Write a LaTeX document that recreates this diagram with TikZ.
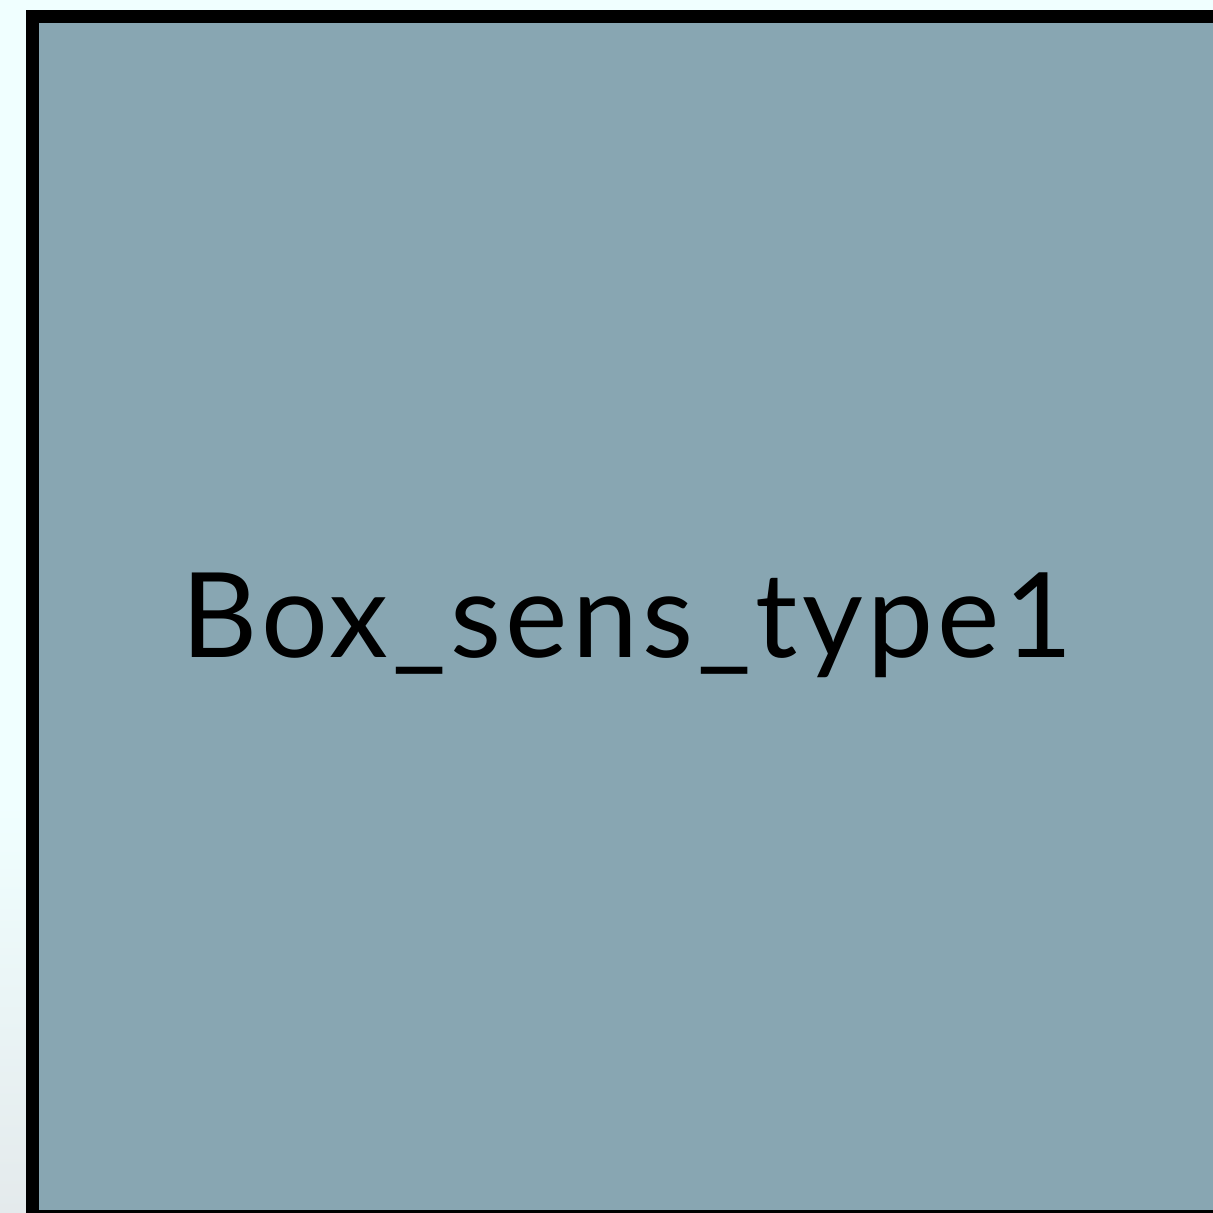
\documentclass[tikz,border=0pt]{standalone}
\usepackage{fontspec}
\setmainfont{Lato}
\definecolor{bgtop}{HTML}{F0FFFF}
\definecolor{bgbot}{HTML}{E4EAEC}
\definecolor{boxfill}{HTML}{88A6B2}
\tikzset{
  sensbox/.style={draw=black, line width=13pt, fill=boxfill},
  boxlabel/.style={font=\fontsize{118}{140}\selectfont\addfontfeatures{LetterSpace=3.5}, text=black, inner sep=0pt, anchor=base}
}
\begin{document}
\begin{tikzpicture}[x=1pt,y=-1pt]
  \useasboundingbox (0,0) rectangle (1213,1213);
  \fill[bgtop] (0,0) rectangle (1213,1213);
  \shade[top color=bgtop, bottom color=bgbot] (0,800) rectangle (1213,1213);
  \draw[sensbox] (32.5,16.5) rectangle (1240,1216.5);
  \node[boxlabel] (label) at (627,657) {Box\_sens\_type1};
\end{tikzpicture}
\end{document}
